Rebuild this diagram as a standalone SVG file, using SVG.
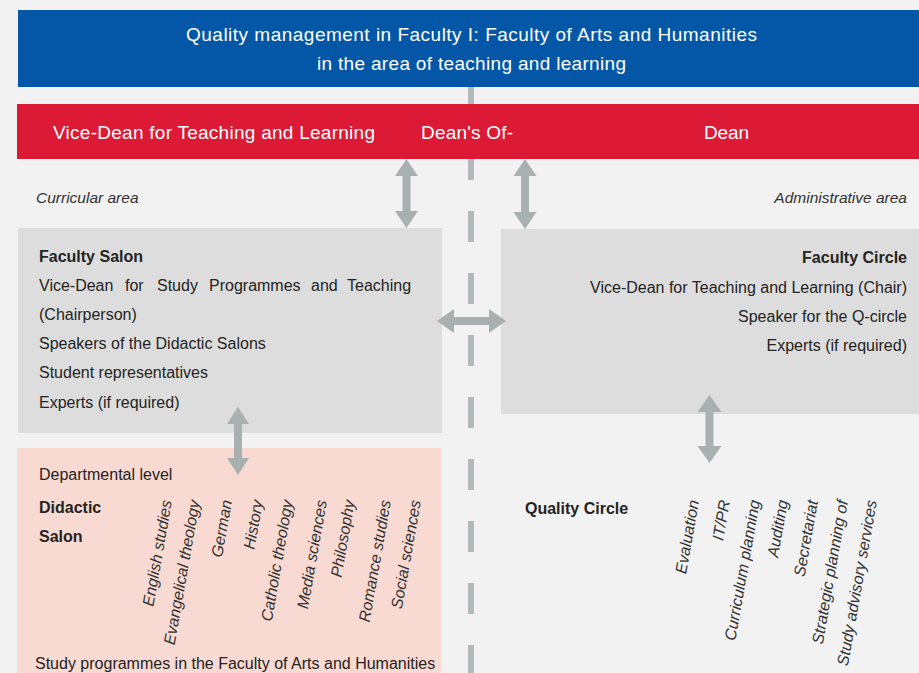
<svg xmlns="http://www.w3.org/2000/svg" width="919" height="673" viewBox="0 0 919 673">
<style>
text{font-family:"Liberation Sans",Arial,sans-serif;fill:#252323;}
.hd{fill:#ffffff;font-size:19px;}
.b{font-size:16px;}
.bold{font-size:16px;font-weight:bold;}
.it{font-size:15.5px;font-style:italic;fill:#333333;}
.rot{font-size:16px;font-style:italic;fill:#333333;text-anchor:end;}
.arrow{fill:#a9b0b0;}
</style>
<rect x="0" y="0" width="919" height="673" fill="#f1f2f1"/>
<g id="connectors">
<line x1="471" y1="86" x2="471" y2="105" stroke="#b3b8b8" stroke-width="6"/>
<line x1="471" y1="159" x2="471" y2="673" stroke="#b3b8b8" stroke-width="6" stroke-dasharray="31 31" stroke-dashoffset="10"/>
</g>
<g id="header">
<rect x="18" y="10" width="901" height="77" fill="#0457a7"/>
<text class="hd" x="186" y="41" textLength="571" lengthAdjust="spacing">Quality management in Faculty I: Faculty of Arts and Humanities</text>
<text class="hd" x="317" y="70" textLength="309" lengthAdjust="spacing">in the area of teaching and learning</text>
</g>
<g id="dean-bar">
<rect x="17" y="104" width="902" height="55" fill="#dc1a35"/>
<text class="hd" x="53" y="139" textLength="322" lengthAdjust="spacing">Vice-Dean for Teaching and Learning</text>
<text class="hd" x="421" y="139" textLength="92" lengthAdjust="spacing">Dean's Of-</text>
<text class="hd" x="704" y="139" textLength="45" lengthAdjust="spacing">Dean</text>
</g>
<g id="area-labels">
<text class="it" x="36" y="203">Curricular area</text>
<text class="it" x="907" y="203" text-anchor="end">Administrative area</text>
</g>
<g id="faculty-salon">
<rect x="18" y="228" width="424" height="205" fill="#dcdddc"/>
<text class="bold" x="39" y="262">Faculty Salon</text>
<text class="b" y="291"><tspan x="39">Vice-Dean</tspan><tspan x="125">for</tspan><tspan x="157">Study</tspan><tspan x="209">Programmes</tspan><tspan x="311">and</tspan><tspan x="347">Teaching</tspan></text>
<text class="b" x="39" y="320">(Chairperson)</text>
<text class="b" x="39" y="349">Speakers of the Didactic Salons</text>
<text class="b" x="39" y="378">Student representatives</text>
<text class="b" x="39" y="408">Experts (if required)</text>
</g>
<g id="faculty-circle">
<rect x="501" y="229" width="418" height="185" fill="#dcdddc"/>
<text class="bold" x="907" y="263" text-anchor="end">Faculty Circle</text>
<text class="b" x="907" y="293" text-anchor="end">Vice-Dean for Teaching and Learning (Chair)</text>
<text class="b" x="907" y="322" text-anchor="end">Speaker for the Q-circle</text>
<text class="b" x="907" y="351" text-anchor="end">Experts (if required)</text>
</g>
<g id="didactic-salon">
<rect x="17" y="448" width="424" height="225" fill="#f8dad2"/>
<text class="b" x="39" y="480">Departmental level</text>
<text class="bold" x="39" y="513">Didactic</text>
<text class="bold" x="39" y="542">Salon</text>
<text class="rot" transform="translate(172,501) rotate(-80)">English studies</text>
<text class="rot" transform="translate(200,501) rotate(-80)">Evangelical theology</text>
<text class="rot" transform="translate(232,501) rotate(-80)">German</text>
<text class="rot" transform="translate(263,501) rotate(-80)">History</text>
<text class="rot" transform="translate(293,501) rotate(-80)">Catholic theology</text>
<text class="rot" transform="translate(327,501) rotate(-80)">Media sciences</text>
<text class="rot" transform="translate(355,501) rotate(-80)">Philosophy</text>
<text class="rot" transform="translate(391,501) rotate(-80)">Romance studies</text>
<text class="rot" transform="translate(421,501) rotate(-80)">Social sciences</text>
<text class="b" x="35" y="669">Study programmes in the Faculty of Arts and Humanities</text>
</g>
<g id="quality-circle">
<text class="bold" x="525" y="514">Quality Circle</text>
<text class="rot" transform="translate(699,501) rotate(-80)">Evaluation</text>
<text class="rot" transform="translate(730,501) rotate(-80)">IT/PR</text>
<text class="rot" transform="translate(760,501) rotate(-80)">Curriculum planning</text>
<text class="rot" transform="translate(788,501) rotate(-80)">Auditing</text>
<text class="rot" transform="translate(818,501) rotate(-80)">Secretariat</text>
<text class="rot" transform="translate(848,501) rotate(-80)">Strategic planning of</text>
<text class="rot" transform="translate(877,501) rotate(-80)">Study advisory services</text>
</g>
<g id="arrows">
<polygon class="arrow" points="406.5,159 418,176 410.5,176 410.5,211 418,211 406.5,228 395,211 402.5,211 402.5,176 395,176"/>
<polygon class="arrow" points="525,159 536.5,176 529,176 529,212 536.5,212 525,229 513.5,212 521,212 521,176 513.5,176"/>
<polygon class="arrow" points="437,321 454,309 454,317 489,317 489,309 506,321 489,333 489,325 454,325 454,333"/>
<polygon class="arrow" points="238,407 249,424 242,424 242,458 249,458 238,475 227,458 234,458 234,424 227,424"/>
<polygon class="arrow" points="709.5,395 721.5,412 713.5,412 713.5,446 721.5,446 709.5,463 697.5,446 705.5,446 705.5,412 697.5,412"/>
</g>
</svg>
